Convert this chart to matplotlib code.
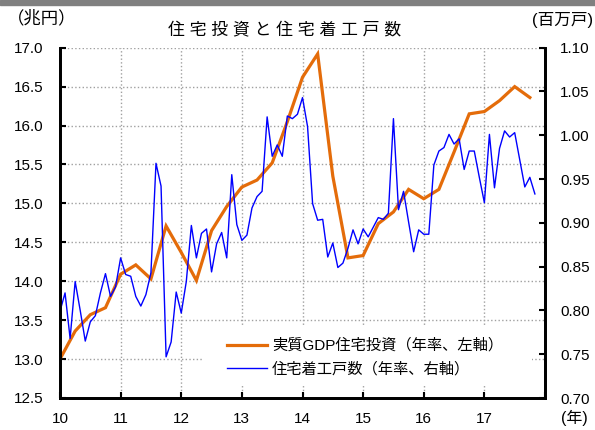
import numpy as np
import matplotlib.pyplot as plt
from matplotlib.patches import Rectangle

plt.rcParams['font.family'] = ['Liberation Sans', 'Noto Sans CJK JP']

# real GDP housing investment, quarterly, trillion yen (annual rate), 2010Q1-
invest = [13.00, 13.36, 13.57, 13.66, 14.09, 14.21, 14.03, 14.71,
          14.37, 14.01, 14.65, 14.96, 15.21, 15.30, 15.52, 16.05,
          16.62, 16.92, 15.35, 14.30, 14.33, 14.74, 14.89, 15.18,
          15.06, 15.18, 15.66, 16.15, 16.18, 16.32, 16.50, 16.36]

# housing starts, monthly, million units (annual rate), 2010/1-
starts = [0.799, 0.820, 0.768, 0.833, 0.800, 0.765, 0.787, 0.794, 0.820, 0.842, 0.816, 0.827,
          0.860, 0.841, 0.839, 0.816, 0.805, 0.818, 0.843, 0.968, 0.942, 0.747, 0.764, 0.821,
          0.797, 0.833, 0.897, 0.860, 0.888, 0.893, 0.844, 0.876, 0.889, 0.860, 0.955, 0.898,
          0.880, 0.886, 0.917, 0.930, 0.936, 1.021, 0.976, 0.989, 0.976, 1.022, 1.019, 1.024,
          1.043, 1.010, 0.922, 0.903, 0.904, 0.861, 0.877, 0.849, 0.854, 0.871, 0.892, 0.876,
          0.893, 0.884, 0.895, 0.906, 0.904, 0.911, 1.019, 0.915, 0.936, 0.901, 0.867, 0.892,
          0.887, 0.887, 0.966, 0.982, 0.986, 1.001, 0.990, 0.996, 0.961, 0.982, 0.982, 0.952,
          0.923, 1.001, 0.940, 0.985, 1.005, 0.998, 1.003, 0.972, 0.941, 0.952, 0.933]

year_ticks = list(range(10, 19))
year_labels = ['10', '11', '12', '13', '14', '15', '16', '17', '']
left_ticks = np.arange(12.5, 17.01, 0.5)
right_ticks = np.arange(0.70, 1.101, 0.05)

x_q = 10 + np.arange(len(invest)) / 4
x_m = 10 + np.arange(len(starts)) / 12

fig = plt.figure(figsize=(5.95, 4.3), dpi=100)
fig.patches.append(Rectangle((0, 1 - 5 / 430), 1, 5 / 430, transform=fig.transFigure,
                             color='#808080', zorder=0))
ax = fig.add_axes([60 / 595, 1 - 398 / 430, 485 / 595, 350.3 / 430])
ax2 = ax.twinx()

orange = '#E46C0A'
l1, = ax.plot(x_q, invest, color=orange, lw=2.3, solid_joinstyle='miter')
l2, = ax2.plot(x_m, starts, color='#0000FF', lw=1.0)

ax.set_xlim(10, 18)
ax.set_ylim(12.5, 17.0)
ax2.set_ylim(0.70, 1.10)
ax.set_xticks(year_ticks)
ax.set_xticklabels(year_labels)
ax.set_yticks(left_ticks)
ax.set_yticklabels([f'{v:.1f}' for v in left_ticks])
ax2.set_yticks(right_ticks)
ax2.set_yticklabels([f'{v:.2f}' for v in right_ticks])

ax.grid(True, color='#A0A0A0', ls=':', lw=1.0)
for a in (ax, ax2):
    a.spines['top'].set_visible(False)
    for s in ('left', 'right', 'bottom'):
        a.spines[s].set_linewidth(2.0)
ax.tick_params(axis='y', direction='in', length=4, width=1.5, pad=12, labelsize=11)
ax.tick_params(axis='x', direction='in', length=4, width=1.5, pad=10, labelsize=11)
ax2.tick_params(axis='y', direction='in', length=4, width=1.5, pad=11, labelsize=11)

# white area behind the legend (hides the grid there)
ax2.add_patch(Rectangle((143 / 485, 14 / 350.3), 329 / 485, 59 / 350.3,
                        transform=ax2.transAxes, facecolor='white', edgecolor='none',
                        zorder=0))
leg = ax2.legend([l1, l2], ['実質GDP住宅投資（年率、左軸）', '住宅着工戸数（年率、右軸）'],
                 loc='center left', bbox_to_anchor=(167 / 485, 40.5 / 350.3), fontsize=11,
                 frameon=False, handlelength=2.6, handletextpad=0.35,
                 labelspacing=0.6, borderpad=0, borderaxespad=0)

fig.text(285 / 595, 1 - 30 / 430, '住 宅 投 資 と 住 宅 着 工 戸 数', ha='center', va='center',
         fontsize=12.2)
fig.text(41.5 / 595, 1 - 18 / 430, '（兆円）', ha='center', va='center', fontsize=12.5)
fig.text(593 / 595, 1 - 20 / 430, '(百万戸)', ha='right', va='center', fontsize=12)
fig.text(574 / 595, 1 - 418 / 430, '(年)', ha='center', va='center', fontsize=11.5)

fig.savefig('out.png', dpi=100)
